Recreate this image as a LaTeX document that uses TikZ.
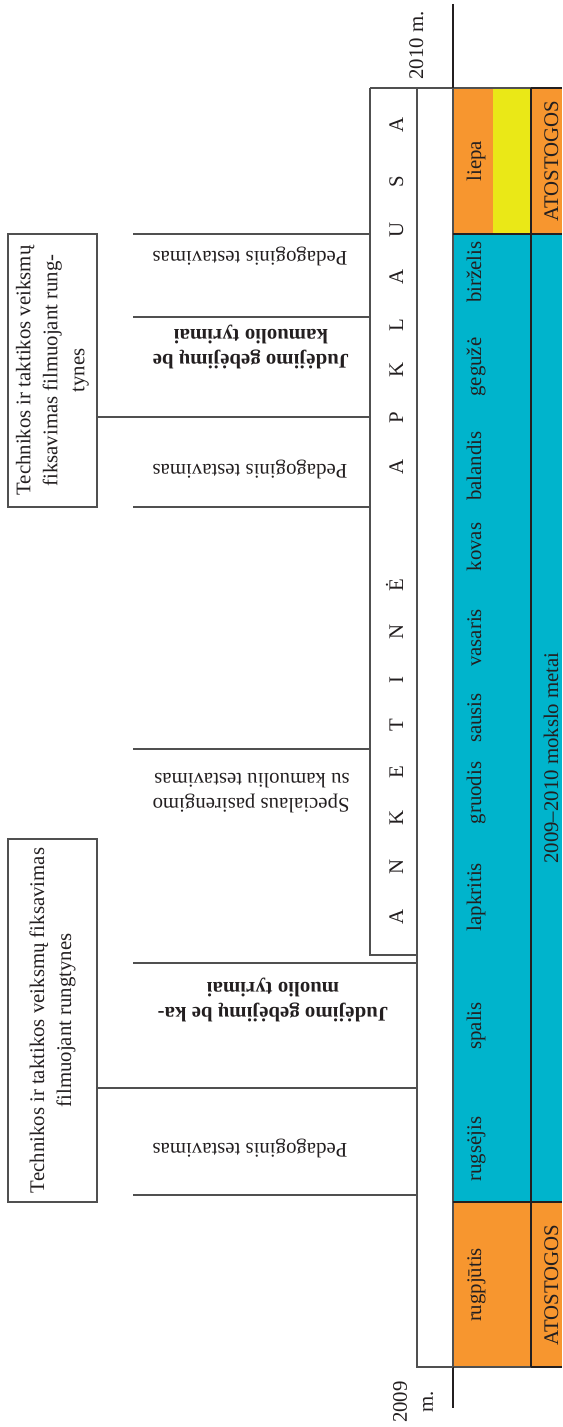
\documentclass[tikz,border=0pt]{standalone}
\usepackage{fontspec}
\setmainfont{Liberation Serif}
\definecolor{orng}{HTML}{F7962F}
\definecolor{yel}{HTML}{EAE817}
\definecolor{cyn}{HTML}{00B4CC}
\definecolor{ln}{HTML}{505050}
\definecolor{txt}{HTML}{231F20}
\begin{document}
\begin{tikzpicture}[x=0.5pt,y=-0.5pt,
  every node/.style={inner sep=0pt, text=txt, font=\fontsize{10.4}{12.5}\selectfont},
  thinline/.style={draw=ln, line width=0.6pt},
  darkline/.style={draw=txt, line width=1pt},
  axisline/.style={draw=txt, line width=1.4pt},
  evbox/.style={draw=ln, line width=0.6pt, rotate=90, align=center, minimum height=44.5pt, font=\fontsize{10.4}{13.5}\selectfont},
  evlabel/.style={rotate=180, align=center},
  boldlabel/.style={rotate=180, align=center, font=\fontsize{10.4}{12.5}\selectfont\bfseries},
  monthlabel/.style={rotate=90, anchor=base},
  letterlabel/.style={rotate=90, anchor=base},
]
\useasboundingbox (0,0) rectangle (562,1427);
% colour bands
\fill[orng] (453,88) rectangle (493,234);
\fill[yel] (493,88) rectangle (531,234);
\fill[cyn] (453,234) rectangle (531,1202);
\fill[orng] (453,1202) rectangle (531,1367);
\fill[orng] (531,88) rectangle (562,234);
\fill[cyn] (531,234) rectangle (562,1202);
\fill[orng] (531,1202) rectangle (562,1367);
% band borders
\draw[thinline] (453,88) -- (453,1367);
\draw[thinline] (370,88) -- (531,88);
\draw[thinline] (417,1367) -- (531,1367);
\draw[darkline] (531,88) -- (562,88);
\draw[darkline] (531,1367) -- (562,1367);
\draw[darkline] (453,234) -- (562,234);
\draw[darkline] (453,1202) -- (562,1202);
\draw[draw=txt, line width=0.7pt] (531,88) -- (531,1367);
% axis ends
\coordinate (axTopA) at (453,4);
\coordinate (axTopB) at (453,88);
\coordinate (axBotA) at (453,1367);
\coordinate (axBotB) at (453,1408);
\draw[axisline] (axTopA) -- (axTopB);
\draw[axisline] (axBotA) -- (axBotB);
% survey box and strip
\coordinate (sbTL) at (370,88);
\coordinate (sbBL) at (370,955);
\coordinate (sbBR) at (417,955);
\coordinate (stT) at (417,88);
\coordinate (stB) at (417,1367);
\draw[thinline] (sbTL) -- (sbBL) -- (sbBR);
\draw[thinline] (stT) -- (stB) -- (axBotA);
% letters
\foreach \l/\yy in {A/917,N/867,K/818,E/772,T/725,I/680,N/632,Ė/585,A/467,P/418,K/370,L/325,A/277,U/230,S/182,A/125}
  \node[letterlabel] at (403,\yy) {\l};
% upper events
\foreach \yy/\nm in {234/u1,317/u2,507/u3,749/u4}{
  \coordinate (\nm a) at (133,\yy);
  \coordinate (\nm b) at (370,\yy);
  \draw[thinline] (\nm a) -- (\nm b);
}
% lower events
\foreach \yy/\nm in {963/l1,1195/l2}{
  \coordinate (\nm a) at (133,\yy);
  \coordinate (\nm b) at (417,\yy);
  \draw[thinline] (\nm a) -- (\nm b);
}
% boxes
\node[evbox, minimum width=136.5pt] (box1) at (52.5,370.5) {Technikos ir taktikos veiksmų\\fiksavimas filmuojant rung-\\tynes};
\node[evbox, minimum width=181.5pt] (box2) at (52.5,1020.5) {Technikos ir taktikos veiksmų fiksavimas\\filmuojant rungtynes};
\coordinate (j1) at (370,417);
\coordinate (j2) at (417,1088);
\draw[thinline] (box1.south |- j1) -- (j1);
\draw[thinline] (box2.south |- j2) -- (j2);
% event labels
\node[evlabel] (p1) at (250,256) {Pedagoginis testavimas};
\node[boldlabel] (m1) at (251,347) {Judėjimo gebėjimų be\\kamuolio tyrimai};
\node[evlabel] (p2) at (250,469) {Pedagoginis testavimas};
\node[rotate=180, anchor=west, align=left] (s1) at (350,793) {Specialaus pasirengimo\\su kamuoliu testavimas};
\node[boldlabel] (m2) at (273,1000) {Judėjimo gebėjimų be ka-\\muolio tyrimai};
\node[evlabel] (p3) at (250,1148) {Pedagoginis testavimas};
% months
\foreach \m/\yy in {liepa/161,birželis/272,gegužė/367,balandis/466,kovas/547,vasaris/638,sausis/718,gruodis/793,lapkritis/897,spalis/1026,rugsėjis/1149,rugpjūtis/1285}
  \node[monthlabel] at (481,\yy) {\m};
\node[monthlabel] (at1) at (558,161) {ATOSTOGOS};
\node[monthlabel] (my) at (558,758) {2009–2010 mokslo metai};
\node[monthlabel] (at2) at (558,1285) {ATOSTOGOS};
% years
\node[rotate=90, anchor=base] (y2010) at (423,45.5) {2010 m.};
\node[rotate=90, align=center, font=\fontsize{10.4}{13}\selectfont] (y2009) at (413,1402) {2009\\m.};
\end{tikzpicture}
\end{document}
